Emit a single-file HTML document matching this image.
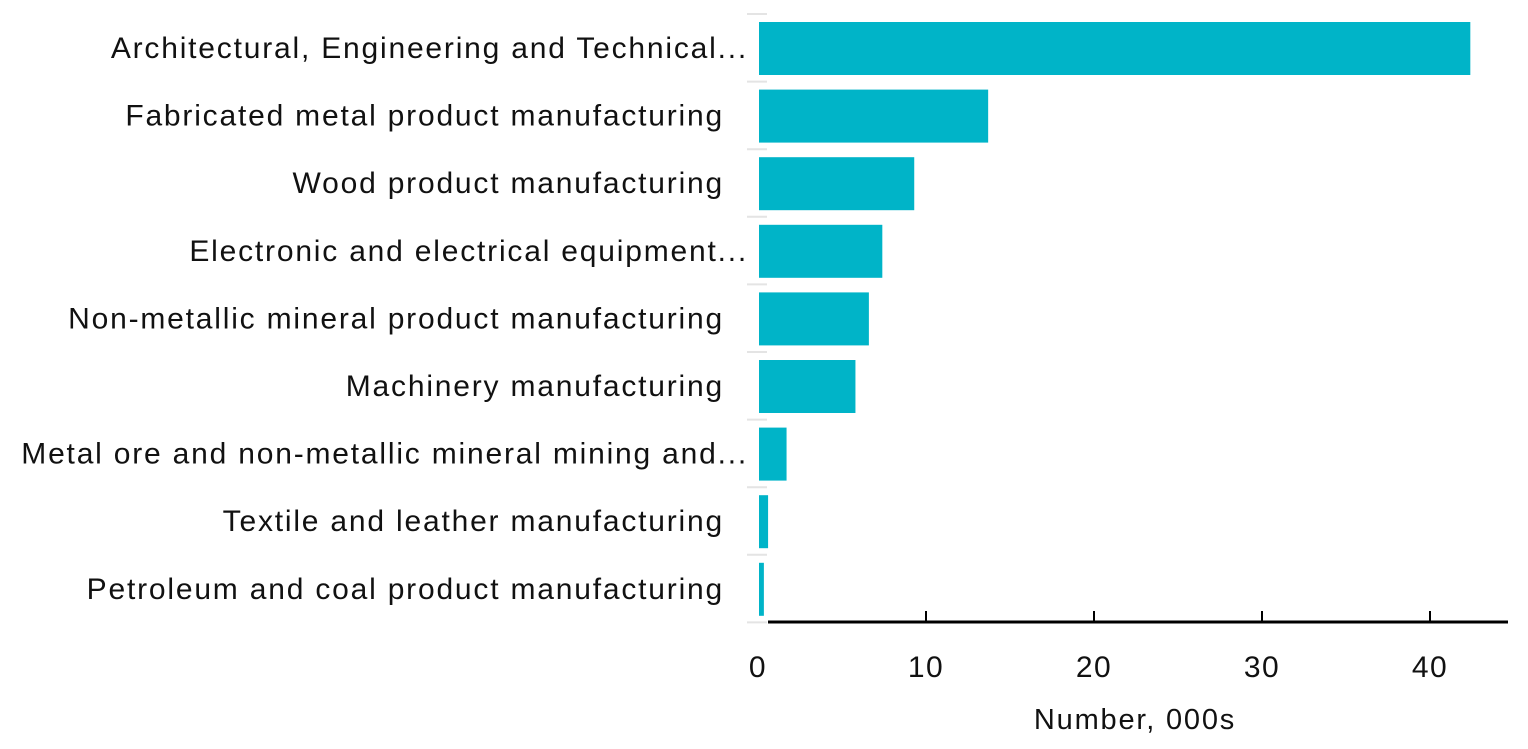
<!DOCTYPE html>
<html><head><meta charset="utf-8"><style>
body{margin:0;background:#fff;}
svg text{font-family:"Liberation Sans",sans-serif;fill:#111;}
</style></head><body>
<svg width="1528" height="744" id="chart">
</svg>
<script>
const categories=["Architectural, Engineering and Technical...","Fabricated metal product manufacturing","Wood product manufacturing","Electronic and electrical equipment...","Non-metallic mineral product manufacturing","Machinery manufacturing","Metal ore and non-metallic mineral mining and...","Textile and leather manufacturing","Petroleum and coal product manufacturing"];
const truncated=[true,false,false,true,false,false,true,false,false];
const values=[42.4,13.7,9.3,7.4,6.6,5.8,1.7,0.6,0.35];
const ticks=[0,10,20,30,40];
const svg=document.getElementById('chart');
const NS='http://www.w3.org/2000/svg';
const x=v=>758+v*16.8;
const rowTop=i=>14+i*67.6;
function mk(t,a,p){const e=document.createElementNS(NS,t);for(const k in a)e.setAttribute(k,a[k]);(p||svg).appendChild(e);return e;}
for(let i=0;i<=categories.length;i++){
  const g=mk('line',{x1:747,x2:767,y1:rowTop(i),y2:rowTop(i),stroke:'#e4e4e4','stroke-width':2});
  
  
}
categories.forEach((c,i)=>{
  const r=mk('rect',{x:x(0)+1,y:rowTop(i)+8,width:Math.max(1,x(values[i])-x(0)-1),height:53,fill:'#00b4c8'});
  
  
  const t=mk('text',{x:truncated[i]?748:724,y:rowTop(i)+44,'text-anchor':'end','font-size':30,'letter-spacing':1.8});
  t.textContent=c;
  
  
});
const ax=mk('line',{x1:768,x2:1508,y1:622,y2:622,stroke:'#000','stroke-width':3});


ticks.forEach(v=>{
  if(v>0){const tk=mk('line',{x1:x(v),x2:x(v),y1:611,y2:622,stroke:'#000','stroke-width':2});
  
  }
  const t=mk('text',{x:x(v),y:677,'text-anchor':'middle','font-size':30,'letter-spacing':1.5});
  t.textContent=v;
  
  
});
const tt=mk('text',{x:1135,y:729,'text-anchor':'middle','font-size':29,'letter-spacing':1.8});
tt.textContent='Number, 000s';


</script>
</body></html>
